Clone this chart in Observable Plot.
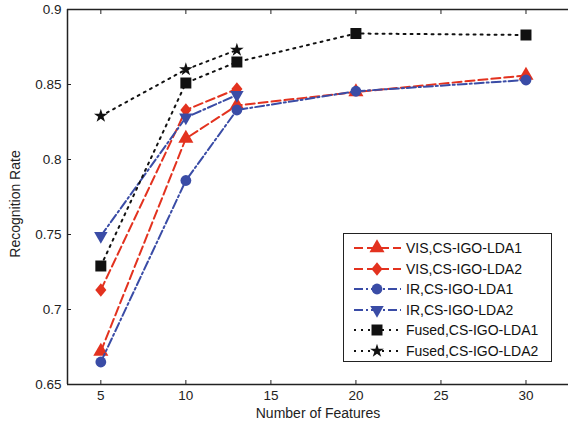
<!DOCTYPE html>
<html><head><meta charset="utf-8">
<script src="https://cdn.jsdelivr.net/npm/d3@7"></script>
<script src="https://cdn.jsdelivr.net/npm/@observablehq/plot@0.6"></script>
<style>
body{margin:0;background:#fff;}
#wrap{position:relative;width:568px;height:424px;overflow:hidden;font-family:"Liberation Sans",Arial,sans-serif;}
#legend{position:absolute;left:343px;top:233px;width:209px;height:129px;border:1.4px solid #222;background:#fff;box-sizing:border-box;padding-top:4px;}
.row{display:flex;align-items:center;height:20.5px;font-size:14px;color:#111;}
.row svg{flex:none;}
</style></head>
<body><div id="wrap"></div>
<script>
const features = [5, 10, 13, 20, 30];
const visLda1 = [0.672, 0.814, 0.836, 0.845, 0.856];
const visLda2 = [0.713, 0.833, 0.847];
const irLda1 = [0.665, 0.786, 0.833, 0.8455, 0.853];
const irLda2 = [0.749, 0.828, 0.843];
const fusedLda1 = [0.729, 0.851, 0.865, 0.884, 0.883];
const fusedLda2 = [0.829, 0.860, 0.873];

const seriesNames = ["VIS,CS-IGO-LDA1", "VIS,CS-IGO-LDA2", "IR,CS-IGO-LDA1", "IR,CS-IGO-LDA2", "Fused,CS-IGO-LDA1", "Fused,CS-IGO-LDA2"];
const seriesValues = [visLda1, visLda2, irLda1, irLda2, fusedLda1, fusedLda2];

const xTicks = [5, 10, 15, 20, 25, 30];
const yTicks = [0.65, 0.7, 0.75, 0.8, 0.85, 0.9];
const xDomain = [3.04, 32.5];
const yDomain = [0.65, 0.9];

const RED = "#e3321f", BLUE = "#3a4ca6", BLACK = "#111";
const sqrt3 = Math.sqrt(3);
const triangleDown = {draw(ctx, size){const y = -Math.sqrt(size/(sqrt3*3)); ctx.moveTo(0, -2*y); ctx.lineTo(-sqrt3*y, y); ctx.lineTo(sqrt3*y, y); ctx.closePath();}};
const diamond = {draw(ctx, size){const h = Math.sqrt(size/1.64); const w = h*0.82; ctx.moveTo(0,-h); ctx.lineTo(w,0); ctx.lineTo(0,h); ctx.lineTo(-w,0); ctx.closePath();}};

const styles = [
  {color: RED, dash: "9,4", symbol: d3.symbolTriangle, r: 5.6},
  {color: RED, dash: "9,4", symbol: diamond, r: 4.9},
  {color: BLUE, dash: "9,3,2,3", symbol: d3.symbolCircle, r: 5.4},
  {color: BLUE, dash: "9,3,2,3", symbol: triangleDown, r: 5},
  {color: BLACK, dash: "2,5", symbol: d3.symbolSquare, r: 6.2},
  {color: BLACK, dash: "2,5", symbol: d3.symbolStar, r: 4.3}
];

const table = seriesValues.map((vals, i) => vals.map((v, j) => ({name: seriesNames[i], x: features[j], y: v})));

const marks = [];
table.forEach((rows, i) => {
  const s = styles[i];
  marks.push(Plot.line(rows, {x: "x", y: "y", stroke: s.color, strokeWidth: 2, strokeDasharray: s.dash}));
  marks.push(Plot.dot(rows, {x: "x", y: "y", symbol: () => s.symbol, r: s.r, fill: s.color, stroke: "none"}));
});

const chart = Plot.plot({
  width: 568, height: 424,
  marginLeft: 67, marginTop: 9, marginBottom: 40, marginRight: 0,
  style: {fontFamily: '"Liberation Sans", Arial, sans-serif', fontSize: "13.5px", color: "#222", background: "#fff"},
  x: {domain: xDomain},
  y: {domain: yDomain},
  symbol: {type: "identity"},
  marks: [
    ...marks,
    Plot.ruleY(yDomain, {stroke: "#222", strokeWidth: 1.5}),
    Plot.ruleX([xDomain[0]], {stroke: "#222", strokeWidth: 1.5}),
    Plot.axisX({anchor: "bottom", ticks: xTicks, tickSize: -4, tickPadding: 9.5, label: null, stroke: "#222"}),
    Plot.axisX({anchor: "top", ticks: xTicks, tickSize: -4, tickFormat: () => "", label: null, stroke: "#222"}),
    Plot.axisY({anchor: "left", ticks: yTicks, tickSize: -4, tickPadding: 10, tickFormat: d => String(+d.toFixed(2)), label: null, stroke: "#222"}),
    Plot.text(["Number of Features"], {frameAnchor: "bottom", dy: 33, text: d => d, fontSize: 14, fill: "#222"}),
    Plot.text(["Recognition Rate"], {frameAnchor: "left", textAnchor: "middle", dx: -52, dy: 7, rotate: -90, text: d => d, fontSize: 14, fill: "#222"})
  ]
});

const wrap = document.getElementById("wrap");
wrap.appendChild(chart);

const legend = document.createElement("div");
legend.id = "legend";
seriesNames.forEach((name, i) => {
  const s = styles[i];
  const row = document.createElement("div");
  row.className = "row";
  const path = d3.symbol(s.symbol, Math.PI*s.r*s.r)();
  row.innerHTML = `<svg width="62" height="20"><line x1="10" x2="57" y1="10" y2="10" stroke="${s.color}" stroke-width="2" stroke-dasharray="${s.dash}"/><path d="${path}" transform="translate(33,10)" fill="${s.color}"/></svg><span>${name}</span>`;
  legend.appendChild(row);
});
wrap.appendChild(legend);
</script>
</body></html>
